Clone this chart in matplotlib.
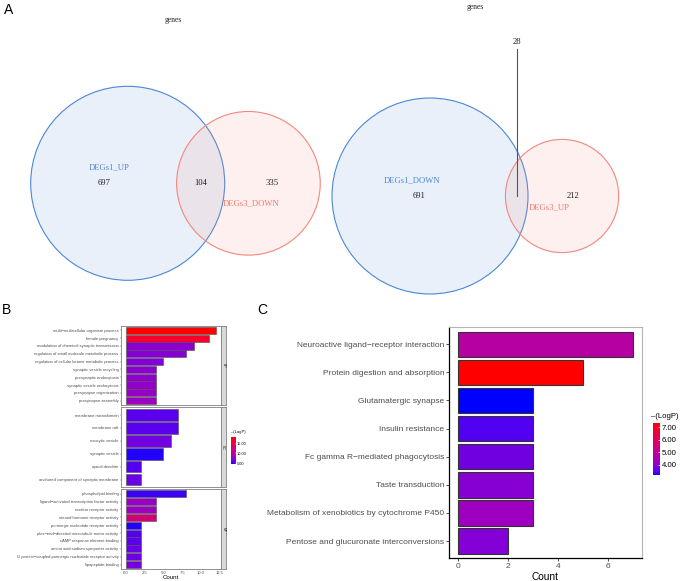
import numpy as np
import matplotlib
matplotlib.use("Agg")
import matplotlib.pyplot as plt
from matplotlib.patches import Circle
from matplotlib.colors import ListedColormap, Normalize
from matplotlib.cm import ScalarMappable

plt.rcParams['font.family'] = ['Liberation Sans', 'DejaVu Sans']

# ---------------- data ----------------
venn1_names = ["DEGs1_UP", "DEGs3_DOWN"]
venn1_counts = [697, 104, 335]      # only set1, both, only set2
venn2_names = ["DEGs1_DOWN", "DEGs3_UP"]
venn2_counts = [691, 28, 212]

bp_terms = ["multi\u2212multicellular organism process", "female pregnancy",
            "modulation of chemical synaptic transmission",
            "regulation of small molecule metabolic process",
            "regulation of cellular ketone metabolic process",
            "synaptic vesicle recycling", "presynaptic endocytosis",
            "synaptic vesicle endocytosis", "presynapse organization",
            "presynapse assembly"]
bp_counts = [12, 11, 9, 8, 5, 4, 4, 4, 4, 4]
bp_logp = [18.8, 17.4, 7.3, 7.1, 6.9, 7.3, 7.5, 7.7, 7.9, 8.2]

cc_terms = ["membrane microdomain", "membrane raft", "exocytic vesicle",
            "synaptic vesicle", "apical dendrite",
            "anchored component of synaptic membrane"]
cc_counts = [7, 7, 6, 5, 2, 2]
cc_logp = [5.6, 5.6, 6.3, 4.7, 5.4, 6.0]

mf_terms = ["phospholipid binding",
            "ligand\u2212activated transcription factor activity",
            "nuclear receptor activity", "steroid hormone receptor activity",
            "purinergic nucleotide receptor activity",
            "plus\u2212end\u2212directed microtubule motor activity",
            "cAMP response element binding",
            "amino acid:sodium symporter activity",
            "G protein\u2212coupled purinergic nucleotide receptor activity",
            "lipopeptide binding"]
mf_counts = [8, 4, 4, 4, 2, 2, 2, 2, 2, 2]
mf_logp = [5.0, 8.0, 8.2, 12.8, 4.7, 5.4, 5.6, 5.9, 6.1, 6.5]

go_facets = ["BP", "CC", "MF"]
go_limits = [4.5, 18.8]
go_ticks = [5, 10, 15]

kegg_terms = ["Neuroactive ligand\u2212receptor interaction",
              "Protein digestion and absorption", "Glutamatergic synapse",
              "Insulin resistance", "Fc gamma R\u2212mediated phagocytosis",
              "Taste transduction",
              "Metabolism of xenobiotics by cytochrome P450",
              "Pentose and glucuronate interconversions"]
kegg_counts = [7, 5, 3, 3, 3, 3, 3, 2]
kegg_logp = [4.8, 7.3, 3.2, 3.45, 3.7, 3.95, 4.3, 3.9]
kegg_limits = [3.2, 7.3]
kegg_ticks = [4, 5, 6, 7]

# ---------------- Lab gradient (blue -> red), like ggplot ----------------
_M = np.array([[0.4124564, 0.3575761, 0.1804375],
               [0.2126729, 0.7151522, 0.0721750],
               [0.0193339, 0.1191920, 0.9503041]])
_W = np.array([0.95047, 1.0, 1.08883])


def srgb_to_lab(c):
    c = np.asarray(c, float)
    lin = np.where(c <= 0.04045, c / 12.92, ((c + 0.055) / 1.055) ** 2.4)
    t = (_M @ lin) / _W
    d = 6 / 29
    f = np.where(t > d ** 3, np.cbrt(t), t / (3 * d * d) + 4 / 29)
    return np.array([116 * f[1] - 16, 500 * (f[0] - f[1]), 200 * (f[1] - f[2])])


def lab_to_srgb(lab):
    L, a, b = lab
    fy = (L + 16) / 116
    f = np.array([fy + a / 500, fy, fy - b / 200])
    d = 6 / 29
    t = np.where(f > d, f ** 3, 3 * d * d * (f - 4 / 29))
    lin = np.linalg.solve(_M, t * _W)
    lin = np.clip(lin, 0, 1)
    c = np.where(lin <= 0.0031308, 12.92 * lin, 1.055 * lin ** (1 / 2.4) - 0.055)
    return np.clip(c, 0, 1)


lab_lo = srgb_to_lab([0, 0, 1])
lab_hi = srgb_to_lab([1, 0, 0])
cmap = ListedColormap([lab_to_srgb(lab_lo + (lab_hi - lab_lo) * s)
                       for s in np.linspace(0, 1, 256)])

# ---------------- figure ----------------
W, H = 685, 581
fig = plt.figure(figsize=(W / 100, H / 100), dpi=100)


def fx(px):
    return px / W


def fy(py):
    return 1 - py / H


# ---------- Panel A: Venn diagrams ----------
axA = fig.add_axes([0, 0, 1, 1])
axA.set_xlim(0, W)
axA.set_ylim(H, 0)
axA.axis("off")


def lens_area(r1, r2, d):
    a1 = np.arccos(np.clip((d * d + r1 * r1 - r2 * r2) / (2 * d * r1), -1, 1))
    a2 = np.arccos(np.clip((d * d + r2 * r2 - r1 * r1) / (2 * d * r2), -1, 1))
    k = (-d + r1 + r2) * (d + r1 - r2) * (d - r1 + r2) * (d + r1 + r2)
    return r1 * r1 * a1 + r2 * r2 * a2 - 0.5 * np.sqrt(max(k, 0))


def solve_d(r1, r2, target):
    lo, hi = abs(r1 - r2) + 1e-6, r1 + r2 - 1e-6
    for _ in range(100):
        mid = 0.5 * (lo + hi)
        if lens_area(r1, r2, mid) > target:
            lo = mid
        else:
            hi = mid
    return 0.5 * (lo + hi)


blue_edge = "#4a88d6"
red_edge = "#f4877c"
serif = ['Liberation Serif', 'DejaVu Serif']


def draw_venn(counts, names, cx, cy, r1, title_xy, name_off1, name_off2, callout=None):
    n1 = counts[0] + counts[1]
    n2 = counts[2] + counts[1]
    r2 = r1 * np.sqrt(n2 / n1)
    target = np.pi * r1 * r1 * counts[1] / n1
    d = solve_d(r1, r2, target)
    c2x = cx + d
    for (x, r, ec) in [(cx, r1, blue_edge), (c2x, r2, red_edge)]:
        axA.add_patch(Circle((x, cy), r, facecolor=ec, alpha=0.12, edgecolor="none"))
        axA.add_patch(Circle((x, cy), r, facecolor="none", edgecolor=ec, lw=0.8))
    left_mid = ((cx - r1) + (c2x - r2)) / 2
    lens_mid = ((c2x - r2) + (cx + r1)) / 2
    right_mid = ((cx + r1) + (c2x + r2)) / 2
    kw = dict(family=serif, fontsize=6.2, ha="center", va="center", color="#222222")
    axA.text(left_mid, cy, str(counts[0]), **kw)
    axA.text(right_mid, cy, str(counts[2]), **kw)
    if callout is None:
        axA.text(lens_mid, cy, str(counts[1]), **kw)
    else:
        axA.plot([lens_mid, lens_mid], [callout, cy], color="#555555", lw=0.8)
        axA.text(lens_mid, callout - 7, str(counts[1]), **kw)
    axA.text(left_mid + name_off1[0], cy + name_off1[1], names[0],
             family=serif, fontsize=6.2, ha="center", va="center", color="#4a88d6")
    axA.text(right_mid + name_off2[0], cy + name_off2[1], names[1],
             family=serif, fontsize=6.2, ha="center", va="center", color="#f4776c")
    axA.text(title_xy[0], title_xy[1], "genes", family=serif, fontsize=5.5,
             ha="center", va="center", color="#222222")


draw_venn(venn1_counts, venn1_names, 127.7, 183.3, 97, (173, 20), (5, -16), (-21, 20))
draw_venn(venn2_counts, venn2_names, 430, 196, 98, (475.7, 7), (-7, -16), (-24, 11),
          callout=49)

fig.text(fx(4), fy(10), "A", fontsize=10, ha="left", va="center")
fig.text(fx(2), fy(310), "B", fontsize=10, ha="left", va="center")
fig.text(fx(257), fy(310), "C", fontsize=10, ha="left", va="center")

# ---------- Panel B: GO faceted bars ----------
go_norm = Normalize(go_limits[0], go_limits[1])
facets = [(bp_terms, bp_counts, bp_logp, 325.7, 405.3),
          (cc_terms, cc_counts, cc_logp, 407.3, 487.3),
          (mf_terms, mf_counts, mf_logp, 489.0, 569.3)]
bl, br = 121.0, 220.7
for i, (terms, counts, logp, top, bot) in enumerate(facets):
    ax = fig.add_axes([fx(bl), fy(bot), fx(br - bl), (bot - top) / H])
    n = len(terms)
    y = np.arange(n)
    ax.barh(y, counts, height=0.9, color=cmap(go_norm(np.array(logp))),
            edgecolor="#4d4d4d", linewidth=0.4)
    ax.set_ylim(n - 1 + 0.6, -0.6)
    ax.set_xlim(-0.6, 12.6)
    ax.set_yticks(y)
    ax.set_yticklabels(terms, fontsize=3.0, color="#4d4d4d")
    ax.set_xticks([0, 2.5, 5, 7.5, 10, 12.5])
    ax.tick_params(axis="both", length=1, width=0.3, color="#4d4d4d", pad=0.8)
    for s in ax.spines.values():
        s.set_color("#7f7f7f")
        s.set_linewidth(0.6)
    if i < 2:
        ax.set_xticklabels([])
        ax.tick_params(axis="x", length=0)
    else:
        ax.set_xticklabels(["0.0", "2.5", "5.0", "7.5", "10.0", "12.5"],
                           fontsize=3.0, color="#4d4d4d")
        ax.tick_params(axis="x", pad=0.4)
    sax = fig.add_axes([fx(br), fy(bot), fx(5.3), (bot - top) / H])
    sax.set_facecolor("#d9d9d9")
    sax.set_xticks([])
    sax.set_yticks([])
    for s in sax.spines.values():
        s.set_color("#7f7f7f")
        s.set_linewidth(0.6)
    sax.text(0.5, 0.5, go_facets[i], rotation=-90, fontsize=2.5, color="#1a1a1a",
             ha="center", va="center", transform=sax.transAxes)

fig.text(fx(171), fy(577.8), "Count", fontsize=4.4, ha="center", va="center")

caxB = fig.add_axes([fx(230.7), fy(464), fx(5), 27.3 / H])
cbB = fig.colorbar(ScalarMappable(norm=go_norm, cmap=cmap), cax=caxB)
cbB.set_ticks(go_ticks)
cbB.set_ticklabels(["%.2f" % t for t in go_ticks])
caxB.tick_params(labelsize=2.8, length=1, width=0.3, color="white", direction="in", pad=1)
cbB.outline.set_visible(False)
fig.text(fx(230.7), fy(432), "\u2013(LogP)", fontsize=3.0, ha="left", va="center")

# ---------- Panel C: KEGG bars ----------
k_norm = Normalize(kegg_limits[0], kegg_limits[1])
axC = fig.add_axes([fx(449), fy(558), fx(642 - 449), (558 - 327.3) / H])
n = len(kegg_terms)
yk = np.arange(n)
axC.barh(yk, kegg_counts, height=0.9, color=cmap(k_norm(np.array(kegg_logp))),
         edgecolor="#333333", linewidth=0.8)
axC.set_ylim(n - 1 + 0.6, -0.6)
axC.set_xlim(-0.35, 7.35)
axC.set_yticks(yk)
axC.set_yticklabels(kegg_terms, fontsize=6.0, color="#4d4d4d")
axC.set_xticks([0, 2, 4, 6])
axC.set_xticklabels(["0", "2", "4", "6"], fontsize=6.0, color="#4d4d4d")
axC.tick_params(axis="both", length=2, width=0.6, color="#333333", pad=1.5)
for side in ["top", "right"]:
    axC.spines[side].set_color("#b3b3b3")
    axC.spines[side].set_linewidth(0.8)
for side in ["left", "bottom"]:
    axC.spines[side].set_color("#000000")
    axC.spines[side].set_linewidth(0.9)
axC.set_xlabel("Count", fontsize=7.3, labelpad=1.5)

caxC = fig.add_axes([fx(653), fy(475), fx(7), (475 - 423.3) / H])
cbC = fig.colorbar(ScalarMappable(norm=k_norm, cmap=cmap), cax=caxC)
cbC.set_ticks(kegg_ticks)
cbC.set_ticklabels(["%.2f" % t for t in kegg_ticks])
caxC.tick_params(labelsize=5.6, length=1.5, width=0.5, color="white", direction="in", pad=1.5)
cbC.outline.set_visible(False)
fig.text(fx(651), fy(416.5), "\u2013(LogP)", fontsize=5.6, ha="left", va="center")

fig.savefig("out.png", dpi=100)
